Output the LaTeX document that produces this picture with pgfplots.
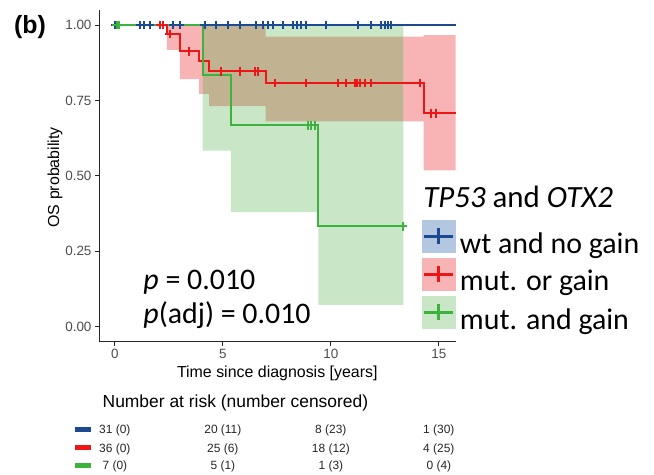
\documentclass[border=0pt]{standalone}
\usepackage{fontspec}
\setmainfont{Liberation Sans}
\newfontfamily\calibri{Carlito}
\usepackage{pgfplots}
\pgfplotsset{compat=1.18}

\definecolor{kmblue}{RGB}{28,74,145}
\definecolor{kmred}{RGB}{236,22,22}
\definecolor{kmgreen}{RGB}{62,178,62}
\definecolor{bandred}{RGB}{248,180,180}
\definecolor{bandgreen}{RGB}{201,231,199}
\definecolor{bandboth}{RGB}{193,178,146}
\definecolor{bandblue}{RGB}{180,199,224}
\definecolor{tickgrey}{RGB}{77,77,77}

\begin{document}
\begin{tikzpicture}
\begin{axis}[
  name=ax,
  scale only axis, width=356.4bp, height=331.7bp,
  xmin=-0.72, xmax=15.78, ymin=-0.05, ymax=1.05,
  axis x line*=bottom, axis y line*=left,
  axis line style={draw=black!85, line width=0.9bp},
  xtick={0,5,10,15}, ytick={0,0.25,0.5,0.75,1},
  /pgf/number format/assume math mode=true,
  yticklabel style={/pgf/number format/fixed, /pgf/number format/fixed zerofill, /pgf/number format/precision=2},
  tick align=outside, major tick length=4.3bp,
  tick style={black!85, line width=0.9bp},
  ticklabel style={font=\fontsize{13.5}{14}\selectfont, text=tickgrey},
  clip=false,
  legend style={at={(axis cs:14.2,0.3528)}, anchor=north west, draw=none, fill=none,
    inner sep=0pt, outer sep=0pt, row sep=3.7bp, column sep=5bp,
    font=\calibri\fontsize{30}{32}\selectfont, nodes={inner sep=0pt}},
  legend cell align=left,
  km/.style={line width=2bp, forget plot},
  cens/.style={only marks, mark=+, mark size=4.3bp, mark options={line width=2bp}, forget plot},
]
% confidence bands
\addplot[fill=bandred, draw=none, forget plot] coordinates {(2.41,1) (6.98,1) (6.98,0.962) (14.29,0.962) (14.29,0.967) (15.78,0.967) (15.78,0.518) (14.29,0.518) (14.29,0.681) (6.98,0.681) (6.98,0.731) (4.36,0.731) (4.36,0.772) (3.90,0.772) (3.90,0.821) (3.01,0.821) (3.01,0.918) (2.41,0.918)} -- cycle;
\addplot[fill=bandgreen, draw=none, forget plot] coordinates {(4.06,1) (13.36,1) (13.36,0.072) (9.42,0.072) (9.42,0.380) (5.37,0.380) (5.37,0.584) (4.06,0.584)} -- cycle;
\addplot[fill=bandboth, draw=none, forget plot] coordinates {(4.06,1) (6.98,1) (6.98,0.962) (13.36,0.962) (13.36,0.681) (6.98,0.681) (6.98,0.731) (4.36,0.731) (4.36,0.772) (4.06,0.772)} -- cycle;

% survival curves
\addplot[kmred, km, const plot] coordinates {(0,1) (2.41,0.971) (3.01,0.913) (3.90,0.880) (4.36,0.847) (6.98,0.808) (14.29,0.707) (15.78,0.707)};
\addplot[kmblue, km] coordinates {(0,1) (15.78,1)};
\addplot[kmgreen, km, const plot] coordinates {(0,1) (4.06,0.833) (5.37,0.667) (9.42,0.333) (13.33,0.333)};

% censoring marks
\addplot[kmblue, cens] coordinates {
 (0,1) (1.16,1) (1.34,1) (1.62,1) (2.70,1) (3.00,1) (4.16,1) (4.70,1) (5.24,1) (5.81,1) (6.55,1) (6.86,1) (7.09,1)
 (7.33,1) (7.79,1) (8.25,1) (8.44,1) (8.64,1) (8.87,1) (9.76,1) (11.25,1) (11.84,1) (12.34,1) (12.49,1) (12.64,1) (12.80,1)};
\addplot[kmred, cens] coordinates {
 (2.10,1) (2.25,1) (2.54,0.971) (3.44,0.913) (4.93,0.847) (5.78,0.847) (6.48,0.847) (6.63,0.847)
 (7.40,0.808) (8.83,0.808) (10.33,0.808) (10.72,0.808) (11.10,0.808) (11.21,0.808) (11.33,0.808) (11.56,0.808) (11.87,0.808)
 (14.11,0.808) (14.65,0.707) (14.85,0.707)};
\addplot[kmgreen, cens] coordinates {
 (0.08,1) (0.20,1) (8.94,0.667) (9.10,0.667) (9.25,0.667) (13.33,0.333)};

% number-at-risk colour keys
\addplot[kmblue, line width=5bp, forget plot] coordinates {(-1.85,-0.3416) (-1.124,-0.3416)};
\addplot[kmred, line width=5bp, forget plot] coordinates {(-1.85,-0.4021) (-1.124,-0.4021)};
\addplot[kmgreen, line width=5bp, forget plot] coordinates {(-1.85,-0.4607) (-1.124,-0.4607)};

% legend
\addlegendimage{legend image code/.code={
  \fill[bandblue] (0bp,-9bp) rectangle (33bp,23bp);
  \draw[kmblue, line width=3.2bp] (2bp,7bp) -- (31bp,7bp);
  \draw[kmblue, line width=2.6bp] (16.5bp,-1bp) -- (16.5bp,15bp);}}
\addlegendentry{wt and no gain}
\addlegendimage{legend image code/.code={
  \fill[bandred] (0bp,-9bp) rectangle (33bp,23bp);
  \draw[kmred, line width=3.2bp] (2bp,7bp) -- (31bp,7bp);
  \draw[kmred, line width=2.6bp] (16.5bp,-1bp) -- (16.5bp,15bp);}}
\addlegendentry{mut. or gain}
\addlegendimage{legend image code/.code={
  \fill[bandgreen] (0bp,-9bp) rectangle (33bp,23bp);
  \draw[kmgreen, line width=3.2bp] (2bp,7bp) -- (31bp,7bp);
  \draw[kmgreen, line width=2.6bp] (16.5bp,-1bp) -- (16.5bp,15bp);}}
\addlegendentry{mut. and gain}

% texts
\node[anchor=base west, font=\calibri\fontsize{31}{33}\selectfont] at (axis cs:14.12,0.395) {\itshape TP53\upshape{} and \itshape OTX2};
\node[anchor=base west, font=\calibri\fontsize{30}{32}\selectfont] at (axis cs:1.16,0.124) {\itshape p\upshape{} = 0.010};
\node[anchor=base west, font=\calibri\fontsize{30}{32}\selectfont] at (axis cs:1.16,0.012) {\itshape p\upshape(adj) = 0.010};
\node[anchor=center, font=\fontsize{16}{18}\selectfont] at (axis cs:7.52,-0.154) {Time since diagnosis [years]};
\node[anchor=center, rotate=90, font=\fontsize{16}{18}\selectfont] at (axis cs:-2.775,0.495) {OS probability};
\node[anchor=center, font=\bfseries\fontsize{25}{28}\selectfont] at (axis cs:-3.93,0.994) {(b)};
\node[anchor=west, font=\fontsize{17.5}{20}\selectfont] at (axis cs:-0.726,-0.2533) {Number at risk (number censored)};
\begin{scope}[every node/.style={anchor=base, font=\fontsize{12}{14}\selectfont, text=black!85}]
\node at (axis cs:0,-0.3558) {31 (0)};
\node at (axis cs:5,-0.3558) {20 (11)};
\node at (axis cs:10,-0.3558) {8 (23)};
\node at (axis cs:15,-0.3558) {1 (30)};
\node at (axis cs:0,-0.4163) {36 (0)};
\node at (axis cs:5,-0.4163) {25 (6)};
\node at (axis cs:10,-0.4163) {18 (12)};
\node at (axis cs:15,-0.4163) {4 (25)};
\node at (axis cs:0,-0.4749) {7 (0)};
\node at (axis cs:5,-0.4749) {5 (1)};
\node at (axis cs:10,-0.4749) {1 (3)};
\node at (axis cs:15,-0.4749) {0 (4)};
\end{scope}
\end{axis}
\pgfresetboundingbox
\useasboundingbox ([xshift=-99.3bp,yshift=-133.3bp]ax.south west) rectangle ([xshift=554.7bp,yshift=341.7bp]ax.south west);
\end{tikzpicture}
\end{document}
